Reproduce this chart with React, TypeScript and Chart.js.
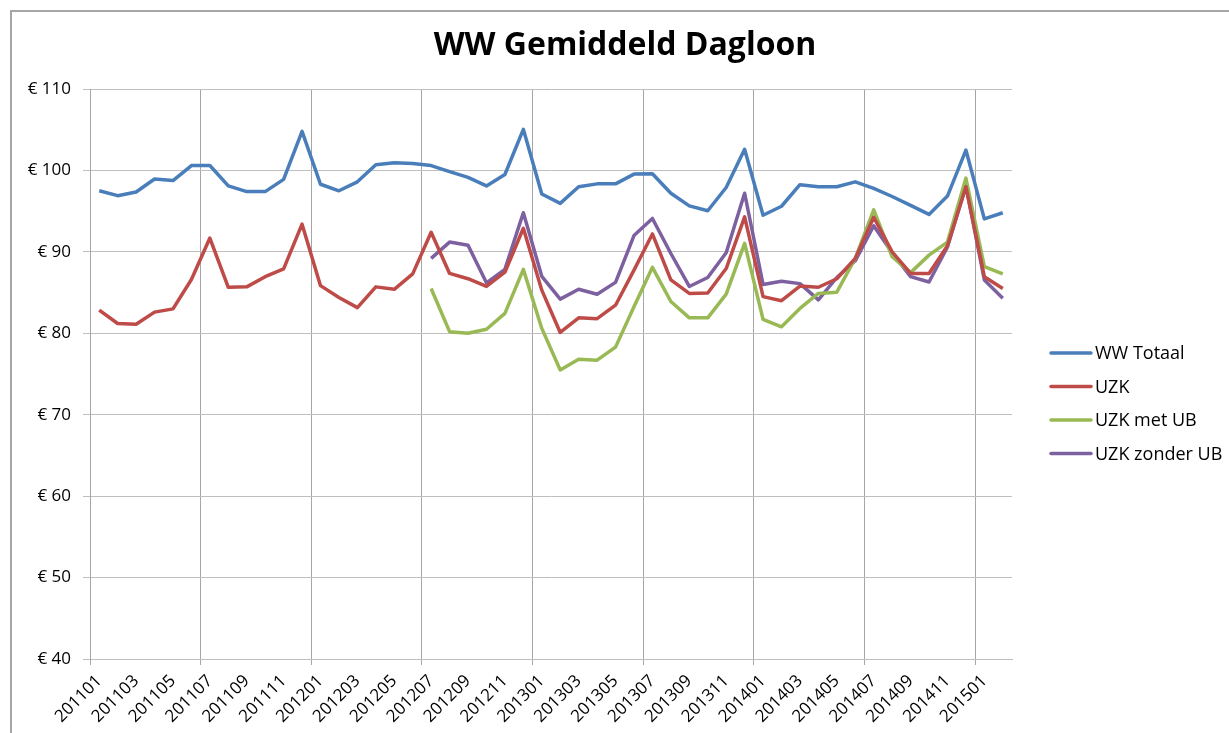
import React, { useEffect, useRef } from "react";
import { Chart, registerables } from "chart.js";

Chart.register(...registerables);

const months: string[] = [
  "201101", "201102", "201103", "201104", "201105", "201106", "201107", "201108", "201109", "201110", "201111", "201112",
  "201201", "201202", "201203", "201204", "201205", "201206", "201207", "201208", "201209", "201210", "201211", "201212",
  "201301", "201302", "201303", "201304", "201305", "201306", "201307", "201308", "201309", "201310", "201311", "201312",
  "201401", "201402", "201403", "201404", "201405", "201406", "201407", "201408", "201409", "201410", "201411", "201412",
  "201501", "201502",
];

const wwTotaal: number[] = [
  97.5, 96.9, 97.35, 98.95, 98.75, 100.6, 100.6, 98.1, 97.4, 97.4, 98.9, 104.8,
  98.3, 97.5, 98.6, 100.7, 100.95, 100.85, 100.6, 99.85, 99.15, 98.1, 99.5, 105.05,
  97.1, 95.95, 98.0, 98.35, 98.35, 99.55, 99.6, 97.2, 95.65, 95.05, 97.9, 102.6,
  94.5, 95.6, 98.25, 98.0, 98.0, 98.6, 97.8, 96.8, 95.7, 94.6, 96.85, 102.5,
  94.05, 94.8,
];

const uzk: number[] = [
  82.85, 81.2, 81.1, 82.6, 83.0, 86.6, 91.7, 85.65, 85.7, 86.95, 87.9, 93.4,
  85.85, 84.4, 83.15, 85.7, 85.4, 87.3, 92.4, 87.35, 86.7, 85.75, 87.5, 92.9,
  85.3, 80.1, 81.9, 81.8, 83.45, 87.75, 92.2, 86.55, 84.9, 84.95, 87.95, 94.3,
  84.5, 84.0, 85.8, 85.65, 86.7, 89.2, 94.25, 90.0, 87.35, 87.35, 90.75, 98.0,
  86.95, 85.5,
];

const uzkMetUb: (number | null)[] = [
  null, null, null, null, null, null, null, null, null, null, null, null,
  null, null, null, null, null, null, 85.5, 80.2, 80.0, 80.5, 82.45, 87.85,
  80.6, 75.5, 76.8, 76.7, 78.3, 83.25, 88.1, 83.9, 81.9, 81.9, 84.8, 91.05,
  81.7, 80.8, 83.05, 84.9, 85.05, 89.2, 95.15, 89.4, 87.45, 89.6, 91.2, 99.05,
  88.2, 87.3,
];

const uzkZonderUb: (number | null)[] = [
  null, null, null, null, null, null, null, null, null, null, null, null,
  null, null, null, null, null, null, 89.2, 91.2, 90.8, 86.2, 87.85, 94.8,
  87.0, 84.2, 85.4, 84.8, 86.25, 92.0, 94.1, 89.8, 85.75, 86.85, 89.9, 97.2,
  86.0, 86.4, 86.1, 84.1, 86.85, 88.9, 93.2, 89.9, 86.95, 86.3, 90.6, 98.1,
  86.55, 84.3,
];

const seriesNames: string[] = ["WW Totaal", "UZK", "UZK met UB", "UZK zonder UB"];
const seriesColors: string[] = ["#4a7ebb", "#be4b48", "#98b954", "#7d60a0"];

const titleText = "WW Gemiddeld Dagloon";
const FONT = "'Open Sans', sans-serif";

const decorPlugin = {
  id: "decor",
  beforeDraw(chart: any) {
    const ctx = chart.ctx;
    ctx.save();
    ctx.fillStyle = "#ffffff";
    ctx.fillRect(0, 0, chart.width, chart.height);
    ctx.strokeStyle = "#a6a6a6";
    ctx.lineWidth = 2;
    ctx.beginPath();
    ctx.moveTo(11, chart.height + 5);
    ctx.lineTo(11, 11);
    ctx.lineTo(chart.width + 5, 11);
    ctx.stroke();
    ctx.restore();
  },
  afterDraw(chart: any) {
    const ctx = chart.ctx;
    ctx.save();
    // title
    ctx.fillStyle = "#000000";
    ctx.font = `bold 32px ${FONT}`;
    ctx.textAlign = "center";
    ctx.textBaseline = "middle";
    ctx.fillText(titleText, 625, 46);
    // legend
    ctx.font = `18px ${FONT}`;
    ctx.textAlign = "left";
    chart.data.datasets.forEach((ds: any, i: number) => {
      const y = 353 + i * 33.5;
      ctx.strokeStyle = ds.borderColor;
      ctx.lineWidth = 3.5;
      ctx.lineCap = "round";
      ctx.beginPath();
      ctx.moveTo(1051, y);
      ctx.lineTo(1091, y);
      ctx.stroke();
      ctx.fillStyle = "#000000";
      ctx.fillText(ds.label, 1095, y + 1);
    });
    ctx.restore();
  },
};

export default function App() {
  const canvasRef = useRef<HTMLCanvasElement | null>(null);

  useEffect(() => {
    const prevMargin = document.body.style.margin;
    document.body.style.margin = "0";
    const canvas = canvasRef.current;
    if (!canvas) return;
    const seriesData = [wwTotaal, uzk, uzkMetUb, uzkZonderUb];
    const chart = new Chart(canvas, {
      type: "line",
      data: {
        labels: months,
        datasets: seriesData.map((d, i) => ({
          label: seriesNames[i],
          data: d,
          borderColor: seriesColors[i],
          backgroundColor: seriesColors[i],
          borderWidth: 3.5,
          pointRadius: 0,
          pointHoverRadius: 0,
          tension: 0,
          spanGaps: false,
          borderJoinStyle: "round" as const,
        })),
      },
      options: {
        animation: false,
        responsive: false,
        maintainAspectRatio: false,
        layout: { padding: { left: 0, top: 89, right: 217, bottom: 0 } },
        plugins: {
          legend: { display: false },
          title: { display: false },
          tooltip: { enabled: false },
        },
        scales: {
          x: {
            type: "category",
            offset: true,
            grid: {
              offset: true,
              color: (c: any) => (c.index % 6 === 0 ? "#a6a6a6" : "rgba(0,0,0,0)"),
              tickColor: (c: any) => (c.index % 6 === 0 ? "#a6a6a6" : "rgba(0,0,0,0)"),
              tickLength: 6,
              lineWidth: 1,
            },
            border: { display: true, color: "#bfbfbf" },
            ticks: {
              autoSkip: false,
              maxRotation: 45,
              minRotation: 45,
              padding: 6,
              color: "#000000",
              font: { family: FONT, size: 17 },
              callback: (_v: any, i: number) => (i % 2 === 0 ? months[i] : ""),
            },
            afterFit: (scale: any) => {
              scale.height = 74;
            },
          },
          y: {
            min: 40,
            max: 110,
            ticks: {
              stepSize: 10,
              padding: 12,
              color: "#000000",
              font: { family: FONT, size: 17 },
              callback: (v: any) => "€ " + v,
            },
            grid: {
              color: "#bfbfbf",
              tickColor: "#bfbfbf",
              tickLength: 7,
              lineWidth: 1,
            },
            border: { display: true, color: "#a6a6a6" },
            afterFit: (scale: any) => {
              scale.width = 90;
            },
          },
        },
      },
      plugins: [decorPlugin],
    });
    return () => {
      chart.destroy();
      document.body.style.margin = prevMargin;
    };
  }, []);

  return (
    <div style={{ position: "fixed", left: 0, top: 0, width: 1229, height: 733, background: "#fff" }}>
      <canvas ref={canvasRef} width={1229} height={733} style={{ display: "block", width: 1229, height: 733 }} />
    </div>
  );
}
